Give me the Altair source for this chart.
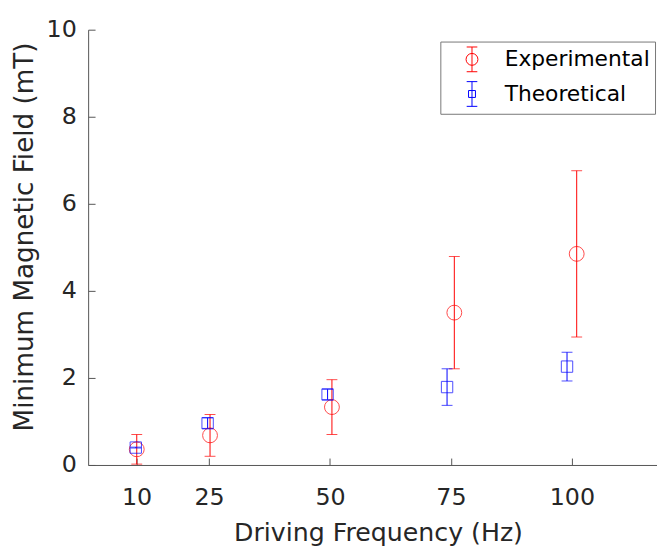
import altair as alt
import pandas as pd

# ---- data ----
series_names = ["Experimental", "Theoretical"]
exp_freq = [10.05, 25.2, 50.4, 75.7, 101.0]
exp_field = [0.36, 0.68, 1.33, 3.50, 4.85]
exp_err = [0.34, 0.48, 0.63, 1.29, 1.91]
theo_freq = [9.85, 24.7, 49.5, 74.2, 99.0]
theo_field = [0.40, 0.96, 1.62, 1.79, 2.26]
theo_err = [0.01, 0.12, 0.12, 0.42, 0.33]
x_ticks = [10, 25, 50, 75, 100]
y_ticks = [0, 2, 4, 6, 8, 10]
x_domain = [0, 117.6]
y_domain = [0, 10]

rows = []
for name, fs, vs, es in [
    (series_names[0], exp_freq, exp_field, exp_err),
    (series_names[1], theo_freq, theo_field, theo_err),
]:
    for f, v, e in zip(fs, vs, es):
        rows.append({"series": name, "freq": f, "field": v, "lo": v - e, "hi": v + e})
df = pd.DataFrame(rows)

FONT = "DejaVu Sans"
TEXT = "#262626"
AXIS = "#555555"
RED = "#ff0000"
BLUE = "#0000ff"

xs = alt.Scale(domain=x_domain, nice=False, zero=False)
ys = alt.Scale(domain=y_domain, nice=False, zero=False)

main_x_axis = alt.Axis(
    orient="bottom", values=x_ticks, ticks=False, domain=True, domainColor=AXIS,
    domainWidth=1, grid=False, labelFont=FONT, labelFontSize=24, labelColor=TEXT,
    labelPadding=40, labelBaseline="alphabetic", labelFlush=False, labelOverlap=False,
    title="Driving Frequency (Hz)", titleFont=FONT, titleFontSize=25.5,
    titleFontWeight="normal", titleColor=TEXT, titleX=293, titleY=76,
    titleAlign="center", titleBaseline="alphabetic",
)
main_y_axis = alt.Axis(
    orient="left", values=y_ticks, ticks=False, domain=True, domainColor=AXIS,
    domainWidth=1, grid=False, labelFont=FONT, labelFontSize=24, labelColor=TEXT,
    labelPadding=12, labelFlush=False, labelOverlap=False,
    title="Minimum Magnetic Field (mT)", titleFont=FONT, titleFontSize=26.5,
    titleFontWeight="normal", titleColor=TEXT, titleX=-56, titleY=209,
    titleAngle=270, titleAlign="center", titleBaseline="alphabetic",
)
tick_x_axis = alt.Axis(
    orient="bottom", values=x_ticks, offset=-7, tickSize=7, tickColor=AXIS,
    tickWidth=1, labels=False, domain=False, grid=False, title=None,
)
tick_y_axis = alt.Axis(
    orient="left", values=y_ticks, offset=-7, tickSize=7, tickColor=AXIS,
    tickWidth=1, labels=False, domain=False, grid=False, title=None,
)

base = alt.Chart(df)


def sub(name):
    return base.transform_filter(alt.datum.series == name)


layers = []
for i, (name, col) in enumerate([(series_names[0], RED), (series_names[1], BLUE)]):
    xa = tick_x_axis if i == 0 else None
    ya = tick_y_axis if i == 0 else None
    layers.append(
        sub(name).mark_rule(color=col, strokeWidth=1).encode(
            x=alt.X("freq:Q", scale=xs, axis=xa),
            y=alt.Y("lo:Q", scale=ys, axis=ya),
            y2="hi:Q",
        )
    )
    for end in ["lo", "hi"]:
        layers.append(
            sub(name).mark_tick(color=col, orient="horizontal", size=11, thickness=1).encode(
                x=alt.X("freq:Q", scale=xs, axis=None),
                y=alt.Y(f"{end}:Q", scale=ys, axis=None),
            )
        )

layers.append(
    sub(series_names[0]).mark_point(shape="circle", filled=False, size=225, strokeWidth=1, color=RED).encode(
        x=alt.X("freq:Q", scale=xs, axis=main_x_axis),
        y=alt.Y("field:Q", scale=ys, axis=main_y_axis),
    )
)
layers.append(
    sub(series_names[1]).mark_point(shape="square", filled=False, size=132, strokeWidth=1, color=BLUE).encode(
        x=alt.X("freq:Q", scale=xs, axis=None),
        y=alt.Y("field:Q", scale=ys, axis=None),
    )
)

exp_symbol = ("M0,-1L0,1M-0.43,-1L0.43,-1M-0.43,1L0.43,1"
              "M-0.48,0A0.48,0.48,0,1,0,0.48,0A0.48,0.48,0,1,0,-0.48,0Z")
theo_symbol = ("M0,-1L0,1M-0.43,-1L0.43,-1M-0.43,1L0.43,1"
               "M-0.28,-0.28L0.28,-0.28L0.28,0.28L-0.28,0.28Z")

legend = alt.Legend(
    title=None, orient="none", legendX=356, legendY=12, direction="vertical",
    padding=5, symbolSize=625, symbolOffset=14, labelOffset=20, rowPadding=5,
    labelFont=FONT, labelFontSize=22, labelColor="#000000",
    strokeColor="#777777", fillColor="#ffffff", cornerRadius=0,
    symbolOpacity=1, symbolStrokeWidth=1, symbolFillColor="transparent",
)
layers.append(
    base.mark_point(filled=False, opacity=0, strokeWidth=1).encode(
        x=alt.X("freq:Q", scale=xs, axis=None),
        y=alt.Y("field:Q", scale=ys, axis=None),
        color=alt.Color("series:N", scale=alt.Scale(domain=series_names, range=[RED, BLUE]), legend=legend),
        shape=alt.Shape("series:N", scale=alt.Scale(domain=series_names, range=[exp_symbol, theo_symbol]), legend=legend),
    )
)

chart = (
    alt.layer(*layers)
    .resolve_axis(x="independent", y="independent")
    .properties(
        width=575, height=440,
        autosize=alt.AutoSizeParams(type="none"),
        padding={"left": 81, "top": 19, "right": 0, "bottom": 82},
        background="#ffffff",
    )
    .configure_view(stroke=None)
)

chart.save("out.html", embed_options={"renderer": "svg", "actions": False})
